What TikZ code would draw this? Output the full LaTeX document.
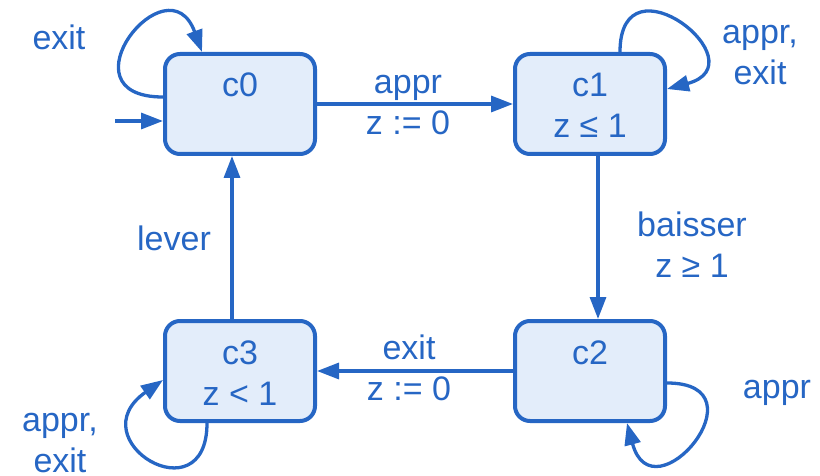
\documentclass[tikz,border=0pt]{standalone}
\usepackage{fontspec}
\setmainfont{Liberation Sans}
\usetikzlibrary{arrows.meta}
\definecolor{ink}{RGB}{38,102,196}
\definecolor{paper}{RGB}{227,237,250}
\tikzset{
  txt/.style={font=\fontsize{34}{41}\selectfont, text=ink, inner sep=0pt, align=center},
  loc/.style={txt, draw=ink, fill=paper, line width=4pt, rounded corners=15pt,
    minimum width=150pt, minimum height=100pt, text height=78pt, text depth=10pt},
  edge/.style={draw=ink, line width=3.3pt, -{Triangle[length=22pt,width=16pt]}},
  lbl/.style={txt, anchor=base}
}
\begin{document}
\begin{tikzpicture}[x=1pt,y=-1pt]
\useasboundingbox (0,0) rectangle (820,476);

% locations (name on the first line, invariant on the second)
\node[loc] (c0) at (240,104) {c0\\\mbox{}};
\node[loc] (c1) at (590,104) {c1\\z ≤ 1};
\node[loc] (c2) at (590,371) {c2\\\mbox{}};
\node[loc] (c3) at (240,371) {c3\\z < 1};

% initial arrow
\coordinate (init) at (115,121);
\draw[edge] (init) -- (init -| c0.west);

% transitions
\draw[edge] (c0) -- (c1);
\draw[edge] ([xshift=8pt]c1.south) -- ([xshift=8pt]c2.north);
\draw[edge] (c2) -- (c3);
\draw[edge] ([xshift=-8pt]c3.north) -- ([xshift=-8pt]c0.south);

% self loops
\draw[edge] ([yshift=7pt]c0.west) .. controls +(180:105pt) and +(110:100pt) .. ([xshift=-38pt]c0.north);
\draw[edge] ([xshift=30pt]c1.north) .. controls +(90:100pt) and +(15:98pt) .. ([yshift=15pt]c1.east);
\draw[edge] ([yshift=-12pt]c2.east) .. controls +(0:100pt) and +(-75:100pt) .. ([xshift=37pt]c2.south);
\draw[edge] ([xshift=-33pt]c3.south) .. controls +(-90:95pt) and +(215:105pt) .. ([yshift=-9pt]c3.west);

% transition labels (anchored at the baseline of the last line)
\node[lbl] (l01) at (408,135) {appr\\z := 0};
\node[lbl] (l12) at (692,277) {baisser\\z ≥ 1};
\node[lbl] (l23) at (409,400) {exit\\z := 0};
\node[lbl] (l30) at (174,251) {lever};
\node[lbl] (l00) at (59,50) {exit};
\node[lbl] (l11) at (760,85) {appr,\\exit};
\node[lbl] (l22) at (777,398) {appr};
\node[lbl] (l33) at (60,472) {appr,\\exit};
\end{tikzpicture}
\end{document}
